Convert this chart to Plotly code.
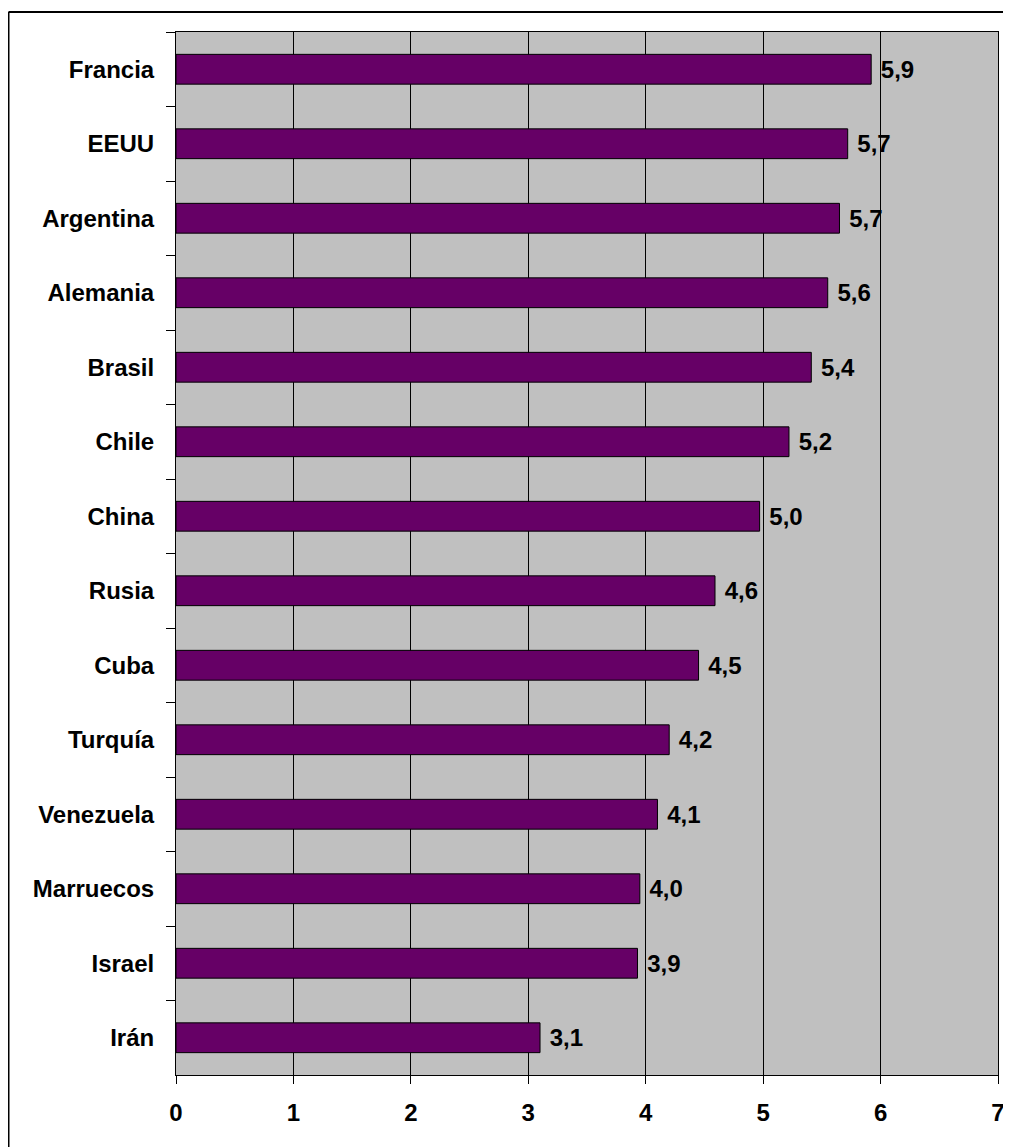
import plotly.graph_objects as go

countries = ["Francia", "EEUU", "Argentina", "Alemania", "Brasil", "Chile", "China",
             "Rusia", "Cuba", "Turquía", "Venezuela", "Marruecos", "Israel", "Irán"]
values = [5.92, 5.72, 5.65, 5.55, 5.41, 5.22, 4.97, 4.59, 4.45, 4.20, 4.10, 3.95, 3.93, 3.10]
labels = ["5,9", "5,7", "5,7", "5,6", "5,4", "5,2", "5,0", "4,6", "4,5", "4,2", "4,1", "4,0", "3,9", "3,1"]
x_ticks = [0, 1, 2, 3, 4, 5, 6, 7]

# page offset of 8px (body margin) is compensated
OFF = 8
W, H = 1011 - OFF, 1147 - OFF
L, R, T, B = 176 - OFF, 998 - OFF, 32 - OFF, 1075 - OFF
pw, ph = R - L, B - T

font = "Liberation Sans, Arial, sans-serif"
fsize = 24

fig = go.Figure(go.Bar(
    x=values, y=countries, orientation="h",
    marker=dict(color="#660066", line=dict(color="black", width=1)),
    width=0.4,
    text=[" " + s for s in labels], textposition="outside", cliponaxis=False,
    textfont=dict(family=font, size=fsize, color="black", weight="bold"),
))

bx = (0.5 - L) / pw
by = 1 + (T - 4) / ph

fig.update_layout(
    width=W, height=H,
    margin=dict(l=L, r=W - R, t=T, b=H - B, autoexpand=False),
    paper_bgcolor="white", plot_bgcolor="#C0C0C0",
    showlegend=False, bargap=0.6,
    xaxis=dict(range=[0, 7], tickvals=x_ticks, ticktext=[str(v) for v in x_ticks],
               showgrid=True, gridcolor="black", gridwidth=1,
               showline=True, linecolor="black", linewidth=1, mirror=True,
               ticks="outside", ticklen=8, tickcolor="black",
               ticklabelstandoff=8, automargin=False,
               tickfont=dict(family=font, size=fsize, color="black", weight="bold"),
               zeroline=False, fixedrange=True),
    yaxis=dict(categoryorder="array", categoryarray=countries, autorange="reversed",
               showgrid=False, showline=True, linecolor="black", linewidth=1, mirror=True,
               ticks="outside", ticklen=9, tickcolor="black", tickson="boundaries",
               ticklabelstandoff=16, automargin=False,
               tickfont=dict(family=font, size=fsize, color="black", weight="bold"),
               fixedrange=True),
    shapes=[
        dict(type="line", xref="paper", yref="paper",
             x0=bx, x1=1.2, y0=by, y1=by,
             line=dict(color="black", width=2)),
        dict(type="line", xref="paper", yref="paper",
             x0=bx, x1=bx, y0=by, y1=-0.2,
             line=dict(color="black", width=2)),
    ],
)

fig.write_html("out.html")
